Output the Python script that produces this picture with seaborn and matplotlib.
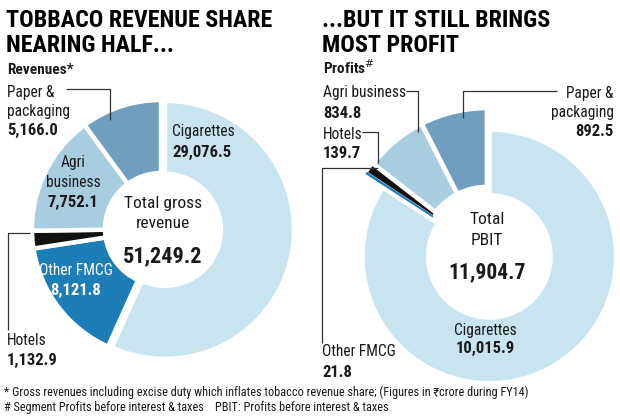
import matplotlib
matplotlib.use("Agg")
import matplotlib.pyplot as plt
from matplotlib import font_manager as fm
import seaborn as sns

# ---------------- data ----------------
segments = ["Cigarettes", "Other FMCG", "Hotels", "Agri business", "Paper & packaging"]
revenues = [29076.5, 8121.8, 1132.9, 7752.1, 5166.0]
profits = [10015.9, 21.8, 139.7, 834.8, 892.5]
total_revenue = 51249.2
total_pbit = 11904.7

title_left = ["TOBBACO REVENUE SHARE", "NEARING HALF..."]
title_right = ["...BUT IT STILL BRINGS", "MOST PROFIT"]
sub_left = "Revenues*"
sub_right = "Profits$^{\\#}$"
foot1 = "* Gross revenues including excise duty which inflates tobacco revenue share; (Figures in \u20b9crore during FY14)"
foot2 = "# Segment Profits before interest & taxes    PBIT: Profits before interest & taxes"

# ---------------- style ----------------
sns.set_theme(style="white")
names = {f.name for f in fm.fontManager.ttflist}
cands = ["Liberation Sans Narrow", "DejaVu Sans Condensed", "Roboto Condensed",
         "Open Sans Condensed", "Noto Sans Condensed", "Liberation Sans"]
FONT = next((c for c in cands if c in names), "DejaVu Sans")
plt.rcParams["font.family"] = [FONT, "Noto Sans", "DejaVu Sans"]

palette = sns.color_palette(["#c7e4ef", "#1d7db7", "#111111", "#a9cde0", "#6f9ebf"])
TXT = "#1a1a1a"

W, H = 620, 418
fig = plt.figure(figsize=(W / 100, H / 100), dpi=100)
ax = fig.add_axes([0, 0, 1, 1])


def Y(y):
    return H - y


def fmt(v):
    return f"{v:,.1f}"


# ---------------- left donut ----------------
wl, _ = ax.pie(revenues, colors=palette, startangle=90, counterclock=False,
               center=(161, Y(229)), radius=129, explode=[4, 0, 0, 0, 0],
               wedgeprops=dict(width=73, edgecolor="white", linewidth=3.2))

# ---------------- right donut ----------------
wr, _ = ax.pie(profits, colors=palette, startangle=90, counterclock=False,
               center=(487, Y(252)), radius=144, explode=[5, 0, 0, 0, 0],
               wedgeprops=dict(width=79, edgecolor="white", linewidth=3.4))
wr[0].set_radius(127)
wr[0].set_width(66)
wr[1].set_edgecolor(palette[1])
wr[1].set_linewidth(0.7)
wr[1].set_zorder(3)
wr[2].set_linewidth(1.2)

ax.set_xlim(0, W)
ax.set_ylim(0, H)
ax.set_aspect("equal")
ax.axis("off")

# ---------------- titles ----------------
TSZ = 17.3
for i, ln in enumerate(title_left):
    ax.text(6, Y(27 + 25 * i), ln, fontsize=TSZ, fontweight="bold", color="black",
            va="baseline", ha="left")
for i, ln in enumerate(title_right):
    ax.text(322, Y(27 + 25 * i), ln, fontsize=TSZ, fontweight="bold", color="black",
            va="baseline", ha="left")
ax.text(7, Y(74), sub_left, fontsize=11, fontweight="bold", color=TXT, va="baseline")
ax.text(323, Y(74), sub_right, fontsize=11, fontweight="bold", color=TXT, va="baseline")

LAB = 11.2
VAL = 12


def label(x, y, name_lines, value, ha="left", color=TXT, step=20):
    for i, ln in enumerate(name_lines):
        ax.text(x, Y(y + i * step), ln, fontsize=LAB, color=color, ha=ha, va="baseline")
    ax.text(x, Y(y + len(name_lines) * step), value, fontsize=VAL, fontweight="bold",
            color=color, ha=ha, va="baseline")


def leader(xs, ys):
    ax.plot(xs, [Y(v) for v in ys], color="#333333", lw=0.9, solid_capstyle="butt")


# left labels
label(7, 97, ["Paper &", "packaging"], fmt(revenues[4]), step=19)
leader([66, 110, 110], [89, 89, 120])
label(73, 167, ["Agri", "business"], fmt(revenues[3]), ha="center", step=20)
label(76, 275, ["Other FMCG"], fmt(revenues[1]), ha="center", color="white", step=20)
label(7, 345, ["Hotels"], fmt(revenues[2]), step=20)
leader([30, 8, 8], [233, 233, 330])
label(172, 136, ["Cigarettes"], fmt(revenues[0]), step=21)

ax.text(163, Y(208), "Total gross", fontsize=12.5, color=TXT, ha="center", va="baseline")
ax.text(163, Y(228), "revenue", fontsize=12.5, color=TXT, ha="center", va="baseline")
ax.text(163, Y(262), fmt(total_revenue), fontsize=16, fontweight="bold", color=TXT,
        ha="center", va="baseline")

# right labels
label(323, 97, ["Agri business"], fmt(profits[3]), step=21)
leader([406, 418, 418], [91, 91, 132])
label(323, 139, ["Hotels"], fmt(profits[2]), step=19)
leader([362, 378, 378], [132, 132, 163])
label(322, 356, ["Other FMCG"], fmt(profits[1]), step=21)
leader([378, 322, 322], [168, 168, 343])
label(614, 98, ["Paper &", "packaging"], fmt(profits[4]), ha="right", step=19)
leader([557, 463, 463], [91, 91, 118])
label(485, 335, ["Cigarettes"], fmt(profits[0]), ha="center", step=18)

ax.text(487, Y(224), "Total", fontsize=12.5, color=TXT, ha="center", va="baseline")
ax.text(487, Y(245), "PBIT", fontsize=12.5, color=TXT, ha="center", va="baseline")
ax.text(487, Y(278), fmt(total_pbit), fontsize=15.5, fontweight="bold", color=TXT,
        ha="center", va="baseline")

# footnotes
ax.text(4, Y(396), foot1, fontsize=8.85, color=TXT, va="baseline")
ax.text(4, Y(411), foot2, fontsize=8.85, color=TXT, va="baseline")

fig.savefig("out.png", dpi=100, facecolor="white")
